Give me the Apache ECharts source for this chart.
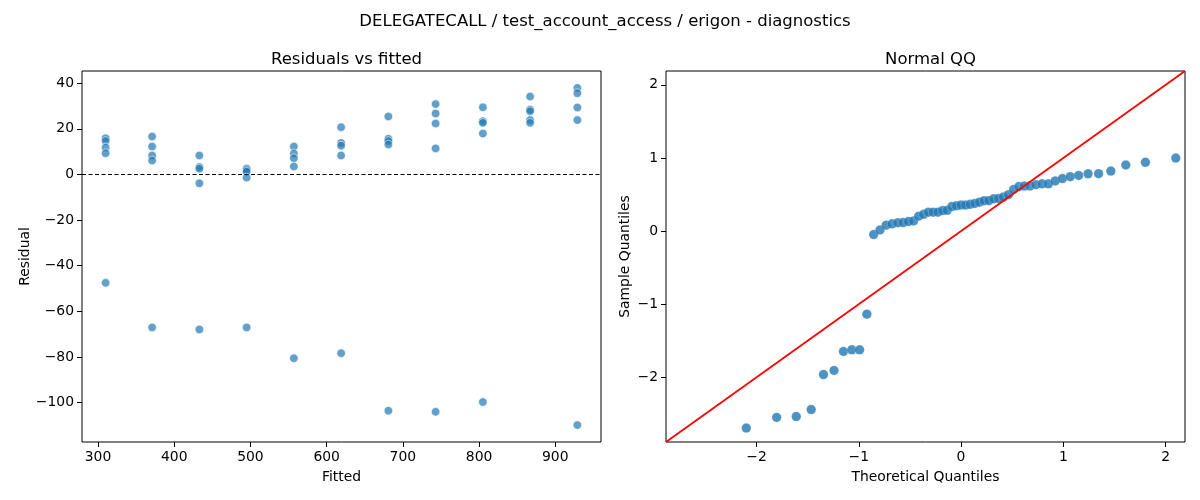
<!DOCTYPE html>
<html>
<head>
<meta charset="utf-8">
<script src="https://cdn.jsdelivr.net/npm/echarts@6.0.0/dist/echarts.min.js"></script>
<style>
  html, body { margin: 0; padding: 0; background: #fff; }
  #main { width: 1200px; height: 500px; }
</style>
</head>
<body>
<div id="main"></div>
<script>
// fitted values (one group of runs per value)
const fitted = [310, 371, 433, 495, 557, 619, 681, 743, 805, 867, 929];
// residuals for each fitted group
const residuals = [
  [15.8, 14.6, 11.8, 9.3, -47.5],
  [16.6, 12.2, 8.3, 6.1, -67.0],
  [8.3, 3.2, 2.5, -3.9, -67.9],
  [2.6, 1.9, 1.2, -1.4, -67.0],
  [12.2, 9.2, 7.1, 3.5, -80.5],
  [20.7, 13.8, 12.6, 8.3, -78.3],
  [25.4, 15.6, 14.6, 13.1, -103.5],
  [30.8, 26.7, 22.3, 11.4, -104.0],
  [29.4, 23.3, 22.6, 17.9, -99.7],
  [34.1, 28.4, 27.7, 23.8, 22.6],
  [37.9, 35.6, 29.3, 23.8, -109.8]
];
// normal QQ: theoretical and sample quantiles
const theoQ = [
  -2.100, -1.803, -1.611, -1.465, -1.345, -1.242, -1.150, -1.068, -0.992, -0.921,
  -0.854, -0.792, -0.732, -0.674, -0.619, -0.566, -0.514, -0.464, -0.414, -0.366,
  -0.319, -0.272, -0.226, -0.180, -0.135, -0.090, -0.045, 0.000, 0.045, 0.090,
  0.135, 0.180, 0.226, 0.272, 0.319, 0.366, 0.414, 0.464, 0.514, 0.566,
  0.619, 0.674, 0.732, 0.792, 0.854, 0.921, 0.992, 1.068, 1.150, 1.242,
  1.345, 1.465, 1.611, 1.803, 2.100
];
const sampleQ = [
  -2.694, -2.549, -2.537, -2.442, -1.962, -1.907, -1.647, -1.624, -1.624, -1.137,
  -0.047, 0.016, 0.081, 0.099, 0.114, 0.116, 0.131, 0.139, 0.204, 0.229,
  0.259, 0.259, 0.259, 0.281, 0.284, 0.336, 0.346, 0.356, 0.356, 0.366,
  0.379, 0.396, 0.416, 0.416, 0.441, 0.446, 0.466, 0.498, 0.569, 0.609,
  0.616, 0.616, 0.634, 0.646, 0.646, 0.686, 0.719, 0.744, 0.761, 0.784,
  0.786, 0.821, 0.904, 0.941, 0.999
];
const fitTicks = [300, 400, 500, 600, 700, 800, 900];
const residTicks = [-100, -80, -60, -40, -20, 0, 20, 40];
const qqTicks = [-2, -1, 0, 1, 2];
const qqLim = [-2.885, 2.19];

const FONT = 'DejaVu Sans';
const minus = v => String(v).replace('-', '\u2212');

const residPts = [];
fitted.forEach((f, i) => residuals[i].forEach(r => residPts.push([f, r])));
const qqPts = theoQ.map((t, i) => [t, sampleQ[i]]);

function axis(min, max, ticks, name, gap, extra) {
  return Object.assign({
    type: 'value', min: min, max: max,
    name: name, nameLocation: 'middle', nameGap: gap,
    nameTextStyle: { color: '#000', fontSize: 13.9, fontFamily: FONT },
    axisLine: { show: false, onZero: false },
    splitLine: { show: false },
    axisTick: { show: true, length: 5, customValues: ticks, lineStyle: { color: '#000', width: 1 } },
    axisLabel: { customValues: ticks, color: '#000', fontSize: 13.9, fontFamily: FONT, margin: 8, formatter: minus }
  }, extra || {});
}

const chart = echarts.init(document.getElementById('main'), null, { renderer: 'canvas' });
chart.setOption({
  animation: false,
  backgroundColor: '#fff',
  title: [
    { text: 'DELEGATECALL / test_account_access / erigon - diagnostics', left: 600, top: 8, textAlign: 'center',
      textStyle: { fontFamily: FONT, fontSize: 16.5, fontWeight: 'normal', color: '#000' } },
    { text: 'Residuals vs fitted', left: 341.5, top: 46, textAlign: 'center',
      textStyle: { fontFamily: FONT, fontSize: 16.5, fontWeight: 'normal', color: '#000' } },
    { text: 'Normal QQ', left: 925.5, top: 46, textAlign: 'center',
      textStyle: { fontFamily: FONT, fontSize: 16.5, fontWeight: 'normal', color: '#000' } }
  ],
  grid: [
    { left: 82, top: 71, width: 519, height: 371, show: true, borderColor: '#000', borderWidth: 1, backgroundColor: 'transparent' },
    { left: 666, top: 71, width: 519, height: 371, show: true, borderColor: '#000', borderWidth: 1, backgroundColor: 'transparent' }
  ],
  xAxis: [
    axis(279, 960, fitTicks, 'Fitted', 28, { gridIndex: 0 }),
    axis(qqLim[0], qqLim[1], qqTicks, 'Theoretical Quantiles', 28, { gridIndex: 1 })
  ],
  yAxis: [
    axis(-117.2, 45.3, residTicks, 'Residual', 50, { gridIndex: 0 }),
    axis(qqLim[0], qqLim[1], qqTicks, 'Sample Quantiles', 34, { gridIndex: 1 })
  ],
  series: [
    {
      type: 'scatter', xAxisIndex: 0, yAxisIndex: 0,
      data: residPts, symbolSize: 8.5,
      itemStyle: { color: '#1f77b4', opacity: 0.7, borderColor: '#fff', borderWidth: 0.8 },
      markLine: {
        silent: true, symbol: 'none', label: { show: false },
        lineStyle: { color: '#000', type: [4, 2.5], width: 1 },
        data: [{ yAxis: 0 }]
      },
      z: 3
    },
    {
      type: 'line', xAxisIndex: 1, yAxisIndex: 1,
      data: [[qqLim[0], qqLim[0]], [qqLim[1], qqLim[1]]],
      showSymbol: false, symbol: 'none',
      lineStyle: { color: '#ff0000', width: 1.8 },
      z: 4
    },
    {
      type: 'scatter', xAxisIndex: 1, yAxisIndex: 1,
      data: qqPts, symbolSize: 9.5,
      itemStyle: { color: '#1f77b4', borderColor: 'rgba(255,255,255,0.5)', borderWidth: 0.5 },
      z: 3
    }
  ]
});
</script>
</body>
</html>
